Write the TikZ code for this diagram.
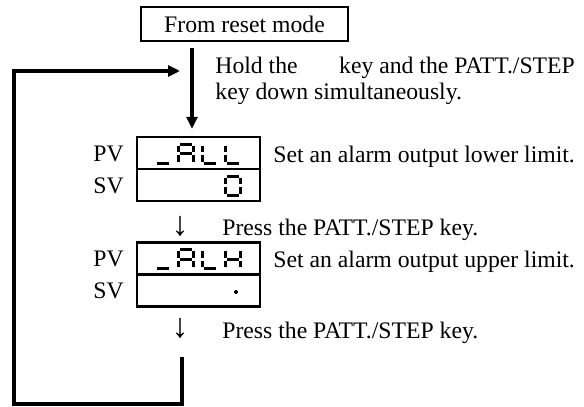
\documentclass[tikz,border=0pt]{standalone}
\usepackage{fontspec}
\setmainfont{Liberation Serif}
\usetikzlibrary{arrows.meta,positioning}

\tikzset{
  flowline/.style={line width=2pt, line join=miter},
  flowtip/.style={-{Triangle[length=6pt,width=5.5pt]}},
  resetbox/.style={draw, line width=0.8pt, minimum width=103.5pt, minimum height=17pt, inner sep=0pt},
  dispbox/.style={draw, line width=1.2pt, minimum width=61.5pt, minimum height=16pt, inner sep=0pt},
  segline/.style={line width=1.5pt},
  lbl/.style={anchor=base west, inner sep=0pt},
  steparrow/.style={inner sep=0pt, font=\fontsize{17}{17}\selectfont},
}

% seven segment pieces, char cell 15 x 19 (px units)
\newcommand{\sega}[2]{\draw[segline] (#1+1.5,#2) -- (#1+13.5,#2);}
\newcommand{\segb}[2]{\draw[segline] (#1+15,#2+1.5) -- (#1+15,#2+8);}
\newcommand{\segc}[2]{\draw[segline] (#1+15,#2+11) -- (#1+15,#2+17.5);}
\newcommand{\segd}[2]{\draw[segline] (#1+1.5,#2+19) -- (#1+13.5,#2+19);}
\newcommand{\sege}[2]{\draw[segline] (#1,#2+11) -- (#1,#2+17.5);}
\newcommand{\segf}[2]{\draw[segline] (#1,#2+1.5) -- (#1,#2+8);}
\newcommand{\segg}[2]{\draw[segline] (#1+1.5,#2+9.5) -- (#1+13.5,#2+9.5);}
\newcommand{\segchar}[3]{\foreach \s in {#3} {\csname seg\s\endcsname{#1}{#2}}}

\begin{document}
\begin{tikzpicture}[x=0.5pt, y=-0.5pt, font=\fontsize{11.85}{13}\selectfont]
  \useasboundingbox (0,0) rectangle (584,407);
  % start box and entry
  \node[resetbox] (reset) at (244.5,24) {From reset mode};
  \coordinate (entry) at (192,48);
  \node[lbl] (hold1) at (215,73) {Hold the\hspace*{1.5em} key and the PATT./STEP};
  \node[lbl] (hold2) at (215,99) {key down simultaneously.};
  % first display
  \node[dispbox] (pv1) at (198.5,153) {};
  \node[dispbox] (sv1) at (198.5,185) {};
  \node[lbl] (pvlbl1) at (93,161) {PV};
  \node[lbl] (svlbl1) at (93,193) {SV};
  \node[lbl] (lower) at (273,162) {Set an alarm output lower limit.};
  \segchar{155}{144}{d}
  \segchar{178.5}{144}{a,b,c,e,f,g}
  \segchar{202}{144}{d,e,f}
  \segchar{225.5}{144}{d,e,f}
  \segchar{225.5}{176}{a,b,c,d,e,f}
  \draw[flowline, flowtip] (entry) -- (entry |- pv1.north) [shorten >=3.5pt];
  % step to second display
  \node[steparrow] (down1) at (180,226) {↓};
  \node[lbl] (press1) at (222,235) {Press the PATT./STEP key.};
  \node[dispbox] (pv2) at (198.5,258.5) {};
  \node[dispbox] (sv2) at (198.5,290.5) {};
  \node[lbl] (pvlbl2) at (93,266.5) {PV};
  \node[lbl] (svlbl2) at (93,298.5) {SV};
  \node[lbl] (upper) at (273,267) {Set an alarm output upper limit.};
  \segchar{155}{249.5}{d}
  \segchar{178.5}{249.5}{a,b,c,e,f,g}
  \segchar{202}{249.5}{d,e,f}
  \segchar{225.5}{249.5}{b,c,e,f,g}
  \fill (236,292) circle (1pt);
  \node[steparrow] (down2) at (180,328) {↓};
  \node[lbl] (press2) at (222,338) {Press the PATT./STEP key.};
  % return loop
  \coordinate (ret) at (182,357);
  \coordinate (loopcorner) at (14,404);
  \coordinate (looptip) at (180,71);
  \draw[flowline, flowtip] (ret) |- (loopcorner) |- (looptip);
\end{tikzpicture}
\end{document}
